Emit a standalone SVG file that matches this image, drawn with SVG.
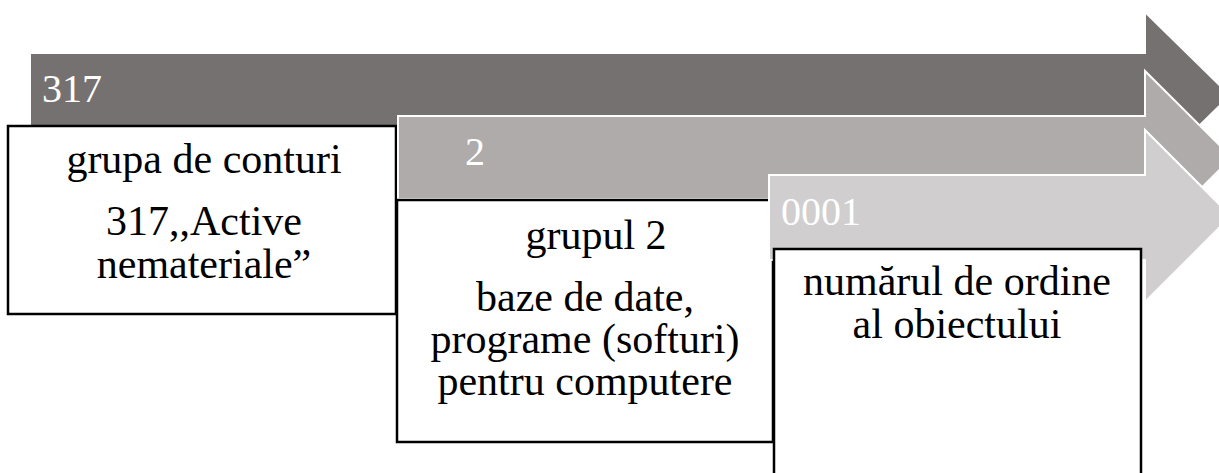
<svg xmlns="http://www.w3.org/2000/svg" width="1219" height="473" viewBox="0 0 1219 473">
<style>
.arrow{stroke:#ffffff;stroke-width:2;stroke-linejoin:miter}
.box{fill:#ffffff;stroke:#000000;stroke-width:2.5}
.lbl{font-family:'Liberation Serif',serif;font-size:40px;fill:#ffffff}
.txt{font-family:'Liberation Serif',serif;font-size:42px;fill:#000000;text-anchor:middle}
</style>
<rect width="1219" height="473" fill="#ffffff"/>
<g id="connectors"></g>
<g id="arrow1">
<path class="arrow" fill="#767171" d="M30,53 H1145 V12 L1230,95.5 L1145,179 V138 H30 Z"/>
<text class="lbl" x="42" y="102">317</text>
</g>
<g id="box1">
<rect class="box" x="8" y="126" width="388" height="188"/>
<text class="txt" x="204" y="173">grupa de conturi</text>
<text class="txt" x="204" y="235">317,,Active</text>
<text class="txt" x="204" y="278">nemateriale”</text>
</g>
<g id="arrow2">
<path class="arrow" fill="#AFABAA" d="M398,116 H1145 V71 L1232,157.5 L1145,244 V199 H398 Z"/>
<text class="lbl" x="465" y="165">2</text>
</g>
<g id="box2">
<rect class="box" x="397" y="200" width="376" height="242"/>
<text class="txt" x="596" y="249">grupul 2</text>
<text class="txt" x="585" y="311">baze de date,</text>
<text class="txt" x="585" y="353">programe (softuri)</text>
<text class="txt" x="585" y="395">pentru computere</text>
</g>
<g id="arrow3">
<path class="arrow" fill="#D0CECE" d="M769,175 H1145 V130 L1231,216 L1145,302 V260 H769 Z"/>
<text class="lbl" x="781" y="225">0001</text>
</g>
<g id="box3">
<rect class="box" x="774" y="249" width="367" height="240"/>
<text class="txt" x="957" y="295">numărul de ordine</text>
<text class="txt" x="957" y="338">al obiectului</text>
</g>
</svg>
